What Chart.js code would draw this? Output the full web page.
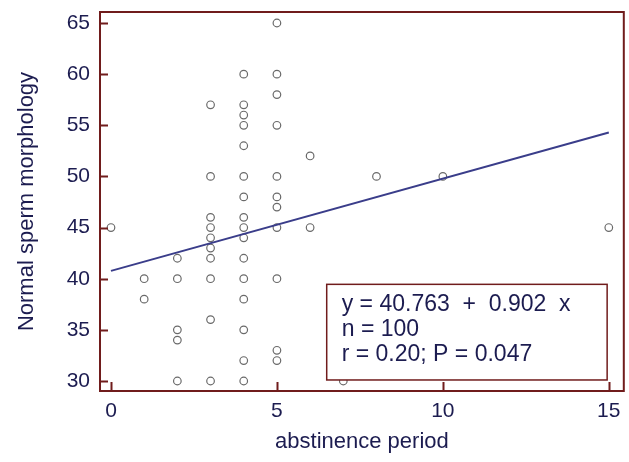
<!DOCTYPE html>
<html>
<head>
<meta charset="utf-8">
<script src="https://cdn.jsdelivr.net/npm/chart.js@4.4.1/dist/chart.umd.min.js"></script>
<style>
  body { margin: 0; background: #fff; }
  canvas { display: block; }
</style>
</head>
<body>
<canvas id="chart" width="629" height="462"></canvas>
<script>
// abstinence period (days) and normal morphology (%)
const abstinence = [
  0,
  1, 1,
  2, 2, 2, 2, 2,
  3, 3, 3, 3, 3, 3, 3, 3, 3, 3,
  4, 4, 4, 4, 4, 4, 4, 4, 4, 4, 4, 4, 4, 4, 4, 4,
  5, 5, 5, 5, 5, 5, 5, 5, 5, 5, 5,
  6, 6,
  7,
  8,
  10,
  15
];
const morphology = [
  45,
  40, 38,
  42, 40, 35, 34, 30,
  57, 50, 46, 45, 44, 43, 42, 40, 36, 30,
  60, 57, 56, 55, 53, 50, 48, 46, 45, 44, 42, 40, 38, 35, 32, 30,
  65, 60, 58, 55, 50, 48, 47, 45, 40, 33, 32,
  52, 45,
  30,
  50,
  50,
  45
];
const xTicks = [0, 5, 10, 15];
const yTicks = [30, 35, 40, 45, 50, 55, 60, 65];

const intercept = 40.763;
const slope = 0.902;
const statLines = ["y = 40.763  +  0.902  x", "n = 100", "r = 0.20; P = 0.047"];

const frameColor = "#701c1c";
const navy = "#1c1c50";
const font = "'Liberation Sans', Arial, sans-serif";

const points = abstinence.map((x, i) => ({ x: x, y: morphology[i] }));
const fitLine = [
  { x: xTicks[0], y: intercept + slope * xTicks[0] },
  { x: xTicks[xTicks.length - 1], y: intercept + slope * xTicks[xTicks.length - 1] }
];

// frame, inward tick marks and the stats box
const framePlugin = {
  id: "frame",
  afterDatasetsDraw(chart) {
    const { ctx, chartArea: a, scales } = chart;
    ctx.save();
    ctx.strokeStyle = frameColor;
    ctx.lineWidth = 2;
    ctx.strokeRect(a.left, a.top, a.right - a.left, a.bottom - a.top);

    ctx.beginPath();
    yTicks.forEach(v => {
      const y = Math.round(scales.y.getPixelForValue(v)) + 0.5;
      ctx.moveTo(a.left, y);
      ctx.lineTo(a.left + 8, y);
    });
    xTicks.forEach(v => {
      const x = Math.round(scales.x.getPixelForValue(v)) + 0.5;
      ctx.moveTo(x, a.bottom);
      ctx.lineTo(x, a.bottom - 9);
    });
    ctx.stroke();

    // stats box
    const bx1 = scales.x.getPixelForValue(6.5);
    const bx2 = scales.x.getPixelForValue(14.95);
    const by1 = scales.y.getPixelForValue(39.45);
    const by2 = scales.y.getPixelForValue(30.1);
    ctx.fillStyle = "#fff";
    ctx.fillRect(bx1, by1, bx2 - bx1, by2 - by1);
    ctx.lineWidth = 1.5;
    ctx.strokeRect(bx1, by1, bx2 - bx1, by2 - by1);

    ctx.fillStyle = navy;
    ctx.font = "23px " + font;
    ctx.textBaseline = "middle";
    ctx.textAlign = "left";
    statLines.forEach((t, i) => {
      ctx.fillText(t, bx1 + 15, by1 + 20 + i * 25);
    });
    ctx.restore();
  }
};

new Chart(document.getElementById("chart"), {
  type: "scatter",
  data: {
    datasets: [
      {
        type: "line",
        data: fitLine,
        borderColor: "#3a3d8a",
        borderWidth: 2,
        pointRadius: 0,
        fill: false
      },
      {
        data: points,
        pointStyle: "circle",
        pointRadius: 3.8,
        borderWidth: 1.2,
        borderColor: "#6a6a6a",
        backgroundColor: "rgba(255,255,255,0)"
      }
    ]
  },
  options: {
    responsive: false,
    animation: false,
    layout: { padding: { top: 12, right: 5, left: 0, bottom: 0 } },
    plugins: { legend: { display: false }, tooltip: { enabled: false } },
    scales: {
      x: {
        type: "linear",
        min: -0.331,
        max: 15.452,
        afterBuildTicks: s => { s.ticks = xTicks.map(v => ({ value: v })); },
        afterFit: s => { s.height = 71; s.paddingLeft = 0; s.paddingRight = 0; },
        grid: { display: false, drawTicks: false },
        border: { display: false },
        ticks: {
          padding: 8,
          color: navy,
          font: { family: font, size: 21 }
        },
        title: {
          display: true,
          text: "abstinence period",
          color: navy,
          padding: { top: 0, bottom: 7 },
          font: { family: font, size: 22 }
        }
      },
      y: {
        type: "linear",
        min: 29.022,
        max: 66.075,
        afterBuildTicks: s => { s.ticks = yTicks.map(v => ({ value: v })); },
        afterFit: s => { s.width = 100; s.paddingTop = 0; s.paddingBottom = 0; },
        grid: { display: false, drawTicks: false },
        border: { display: false },
        ticks: {
          padding: 10,
          color: navy,
          font: { family: font, size: 21 }
        },
        title: {
          display: true,
          text: "Normal sperm morphology",
          color: navy,
          padding: { top: 14, bottom: 0 },
          font: { family: font, size: 22 }
        }
      }
    }
  },
  plugins: [framePlugin]
});
</script>
</body>
</html>
